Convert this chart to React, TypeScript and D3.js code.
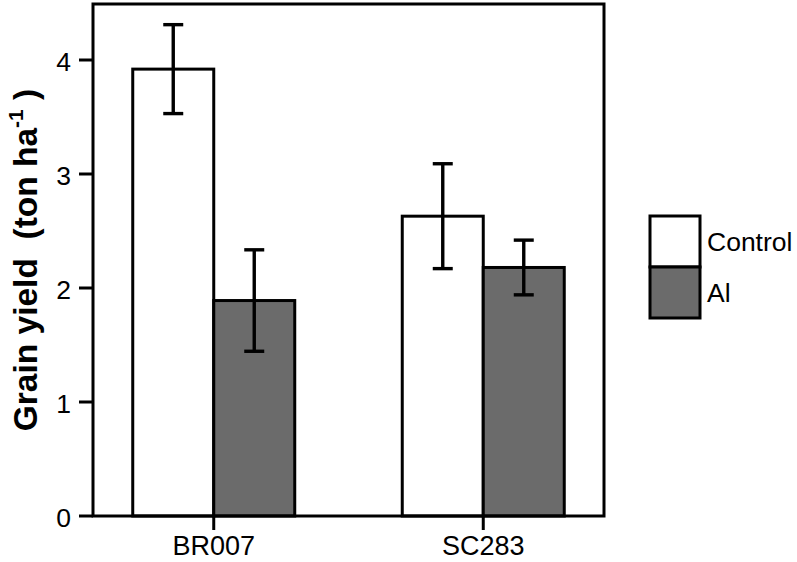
import React from "react";
import * as d3 from "d3";

const categories = ["BR007", "SC283"];
const series = ["Control", "Al"];
const controlMeans = [3.92, 2.63];
const controlErrors = [0.39, 0.46];
const alMeans = [1.89, 2.18];
const alErrors = [0.445, 0.24];
const yTicks = [0, 1, 2, 3, 4];
const seriesColors = ["#ffffff", "#6b6b6b"];

const W = 797;
const H = 562;
const FONT = "'Liberation Sans', Arial, Helvetica, sans-serif";

export default function App() {
  const left = 93, right = 604, top = 3, bottom = 516;
  const y = d3.scaleLinear().domain([0, 4.5]).range([bottom, top]);
  const x = d3.scalePoint<string>().domain(categories).range([left, right]).padding(0.448);
  const barW = 81;
  const xs = d3.scaleBand<string>().domain(series).range([-barW, barW]).padding(0);
  const means = [controlMeans, alMeans];
  const errs = [controlErrors, alErrors];
  const sw = 3;

  return (
    <svg width={W} height={H} style={{ position: "absolute", left: 0, top: 0 }} fontFamily={FONT}>
      <rect x={0} y={0} width={W} height={H} fill="#fff" />
      {/* bars */}
      {series.map((s, si) =>
        categories.map((c, ci) => {
          const x0 = (x(c) as number) + (xs(s) as number);
          const v = means[si][ci];
          return (
            <rect key={s + c} x={x0} y={y(v)} width={xs.bandwidth()} height={y(0) - y(v)}
              fill={seriesColors[si]} stroke="#000" strokeWidth={sw} />
          );
        })
      )}
      {/* error bars */}
      {series.map((s, si) =>
        categories.map((c, ci) => {
          const cx = (x(c) as number) + (xs(s) as number) + xs.bandwidth() / 2;
          const v = means[si][ci];
          const e = errs[si][ci];
          return (
            <g key={"e" + s + c} stroke="#000" strokeWidth={3.4}>
              <line x1={cx} x2={cx} y1={y(v + e)} y2={y(v - e)} />
              <line x1={cx - 10} x2={cx + 10} y1={y(v + e)} y2={y(v + e)} />
              <line x1={cx - 10} x2={cx + 10} y1={y(v - e)} y2={y(v - e)} />
            </g>
          );
        })
      )}
      {/* frame */}
      <rect x={left} y={top + 1} width={right - left} height={bottom - top - 1} fill="none" stroke="#000" strokeWidth={sw} />
      {/* y ticks */}
      {yTicks.map((t) => (
        <g key={"yt" + t}>
          <line x1={left - 14} x2={left} y1={y(t)} y2={y(t)} stroke="#000" strokeWidth={sw} />
          <text x={71} y={y(t) + 1} dy="0.36em" textAnchor="end" fontSize={26.5} fill="#000">{t}</text>
        </g>
      ))}
      {/* x ticks */}
      {categories.map((c) => (
        <g key={"xt" + c}>
          <line x1={x(c) as number} x2={x(c) as number} y1={bottom} y2={bottom + 14} stroke="#000" strokeWidth={sw} />
          <text x={x(c) as number} y={555} textAnchor="middle" fontSize={27} fill="#000">{c}</text>
        </g>
      ))}
      {/* y title */}
      <text transform={`translate(37, 260) rotate(-90)`} textAnchor="middle" fontSize={33.5} fontWeight="bold" fill="#000">
        Grain yield{"\u00a0\u00a0"}(ton ha<tspan fontSize={21} dy={-14}>-1</tspan><tspan dy={14}>{"\u00a0"})</tspan>
      </text>
      {/* legend */}
      {series.map((s, si) => (
        <g key={"lg" + s}>
          <rect x={650} y={216 + si * 51} width={50} height={51} fill={seriesColors[si]} stroke="#000" strokeWidth={sw} />
          <text x={707} y={241.5 + si * 51} dy="0.36em" fontSize={26.5} fill="#000">{s}</text>
        </g>
      ))}
    </svg>
  );
}
